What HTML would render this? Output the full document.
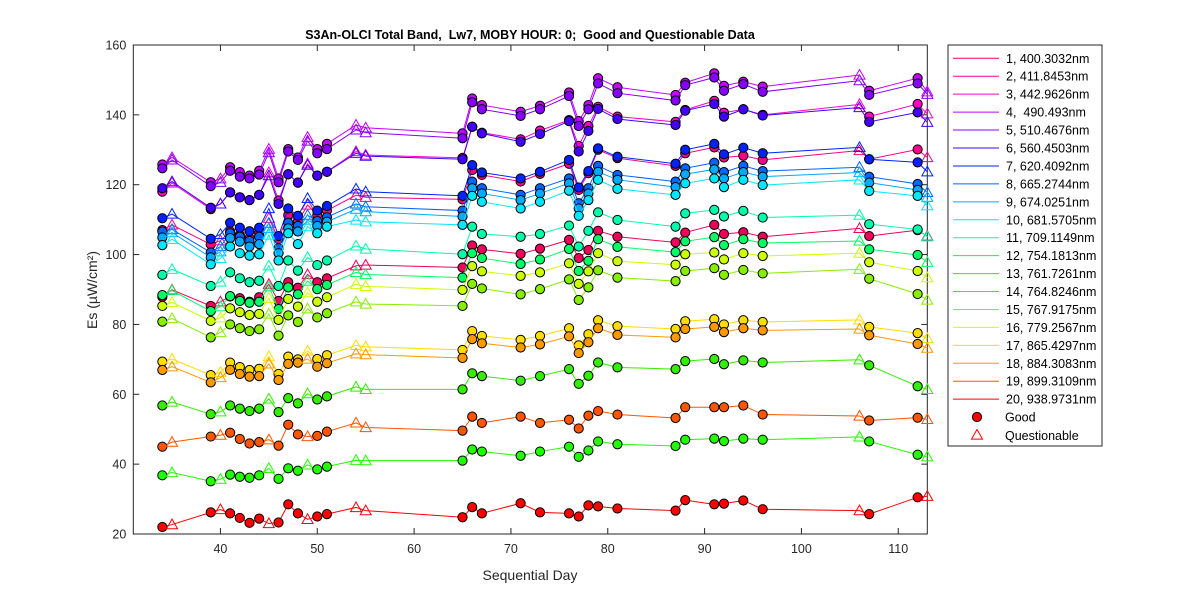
<!DOCTYPE html>
<html><head><meta charset="utf-8"><style>
body{margin:0;background:#fff;}
svg{display:block;font-family:"Liberation Sans",sans-serif;}
text{white-space:pre;}
</style></head><body>
<svg id="chart" width="1200" height="600" viewBox="0 0 1200 600" xmlns="http://www.w3.org/2000/svg" xml:space="preserve">
<rect width="1200" height="600" fill="#fff"/>
<text x="530" y="39" text-anchor="middle" font-size="12.5" font-weight="bold" fill="#000">S3An-OLCI Total Band,  Lw7, MOBY HOUR: 0;  Good and Questionable Data</text>
<text x="530" y="580" text-anchor="middle" font-size="14" fill="#262626">Sequential Day</text>
<text transform="translate(97,290) rotate(-90)" text-anchor="middle" font-size="14" fill="#262626">Es (µW/cm²)</text>
<g id="axes"></g>
<g id="plot"></g>
<g id="legend"></g>
</svg>
<script>
const days = [34,35,39,40,41,42,43,44,45,46,47,48,49,50,51,54,55,65,66,67,71,73,76,77,78,79,81,87,88,91,92,94,96,106,107,112,113];
const questionableDays = [35,40,45,49,54,55,106,113];
const xTicks = [40,50,60,70,80,90,100,110];
const yTicks = [20,40,60,80,100,120,140,160];
const seriesNames = ["1, 400.3032nm","2, 411.8453nm","3, 442.9626nm","4,  490.493nm","5, 510.4676nm","6, 560.4503nm","7, 620.4092nm","8, 665.2744nm","9, 674.0251nm","10, 681.5705nm","11, 709.1149nm","12, 754.1813nm","13, 761.7261nm","14, 764.8246nm","15, 767.9175nm","16, 779.2567nm","17, 865.4297nm","18, 884.3083nm","19, 899.3109nm","20, 938.9731nm"];
const seriesColors = ["#f0005a","#ff0088","#ff00c8","#c800ff","#8800ff","#4400ff","#0022ff","#0066ff","#00aaff","#00e8ff","#00ffaa","#00ff66","#33ee00","#22ff00","#88ee00","#ccff00","#ffdd00","#ff9900","#ff5500","#ff0000"];
const s1 = [87.9,89.9,85.3,86.5,88,87.5,86.5,87.8,91.5,86.7,92.1,90.5,94.3,92.1,93.2,96.8,97,96.3,102.6,101.5,100.2,101.7,104.2,99,101.3,106.8,105.1,103.5,106.3,108.5,105.9,106.4,105.1,107.5,105.3,107,105.3];
const s2 = [107,108.5,102.9,104,106.6,105.6,104.7,106.1,110.4,104.5,111.3,109.4,114.2,111.3,112.6,117,116.4,115.8,124.2,122.8,120.9,123.1,126,118.5,123.3,130,127.6,125.4,129,130.7,127.8,128.3,127.1,129.8,127.3,130.1,127.8];
const s3 = [118,120.5,113,114.5,117.8,116.4,115.6,117.1,123.5,115.5,123,120.6,126,122.6,123.7,129.5,128.5,127.7,136.6,134.9,133,135.5,138.5,131.1,136.8,142.3,139.5,138,141.4,144,140.6,141.6,140,143,139.5,143.1,140.3];
const s4 = [125.8,127.8,120.7,121.7,125,123.6,122.6,124,130.2,121.8,130.2,127.8,133.6,130.2,131.7,137.1,136.3,134.7,144.7,142.8,140.9,142.6,146.4,138.2,142.8,150.5,147.9,145.7,149.2,151.9,148.3,149.5,148.1,151.4,146.9,150.5,146.6];
const s5 = [124.7,127.1,119.6,120.7,124,122.3,121.8,122.9,129.2,120.7,129.5,127.1,132.5,129,130.2,135.7,134.9,133.3,143.6,141.6,139.7,141.6,145.4,136.8,141.6,149,146.2,144.1,148.5,150.7,146.9,148.8,146.6,149.8,145.7,149,145.9];
const s6 = [119,120.9,113.4,114.5,117.8,116.4,115.6,117.1,122.6,114.5,123,120.6,125.6,122.6,123.7,129,128.2,127.3,136.6,134.7,132.3,134.5,138.2,129.5,135.4,141.7,138.8,137.1,141.2,143.1,139.5,141.6,139.8,142.1,138,140.7,137.9];
const s7 = [110.4,111.6,104.5,105.8,109.1,107.7,106.7,107.7,113.2,105.3,113.2,111.1,116.1,112.6,113.9,118.8,118,116.8,125.6,123.5,121.8,123.7,127.1,119.2,123.9,130.4,128,126,130,131.7,128.7,130.6,129,130.7,127.3,126.4,123.7];
const s8 = [106.6,107.2,100.6,102.3,106.1,105.1,103.9,105.1,109,101.8,109.1,108.2,111.3,109.6,110.7,114.5,113.7,112.6,120.9,119,117.1,119,121.8,114.7,119,125.4,122.8,120.9,124.7,126.3,123.6,125.4,123.9,125,122.3,120.2,117.8];
const s9 = [104.9,106.3,99.2,100.8,104.7,103.7,102.3,103,107.5,100.4,107.5,106.6,109.9,108.2,109.4,113,112.3,110.9,119,117.5,115.6,117.5,120.4,113.2,117.5,123.7,121.4,119.3,123,124.4,121.8,123.6,122.3,123.5,120.6,118.5,116.4];
const s10 = [102.7,104.4,97.2,98.9,102.3,100.4,99.7,100.1,105.6,98.3,106.1,103,108,106.1,108,109.9,109.4,108.5,116.8,115.1,113.2,115.1,118.3,111.1,115.6,121.4,118.8,117.1,120.4,121.8,119.3,121.4,119.9,121.4,118.2,116.8,114];
const s11 = [94.2,95.8,91,92.2,94.9,93.2,92.1,92.5,96.8,91,98.3,95.4,99.2,97,98.3,102.5,101.6,100.1,108,105.9,105.1,105.9,108.3,102.3,106.8,112.1,109.9,108,111.8,112.8,110.9,112.5,110.6,111.3,108.7,107.2,105.1];
const s12 = [88.4,89.7,83.8,85.1,88.1,86.7,86.2,86.5,90.8,84.4,90.6,88.6,92.4,90.1,91.3,94.9,94.3,93.4,100.4,99,97.3,98.6,101.6,95.3,98.2,104.4,102.2,100.7,103.8,105,102.7,104.4,103.3,103.9,101.5,99.9,97.8];
const s13 = [56.8,57.8,54.3,55,56.8,55.9,55.2,55.9,58.7,54.9,58.9,57.4,60.2,58.5,59.4,62.1,61.4,61.4,66,65.2,63.9,65.2,67.2,63,65.3,69.1,67.7,67.2,69.5,70.1,68.6,69.7,69.1,69.9,68.3,62.3,61.4];
const s14 = [36.8,37.6,35.1,35.7,37,36.4,36.1,36.8,38.8,35.8,38.8,38.1,39.8,38.5,39.3,41.1,41,41,44.2,43.6,42.4,43.6,45,42.1,43.9,46.5,45.7,45.2,47,47.3,46.6,47.3,47,47.8,46.5,42.7,42.1];
const s15 = [80.8,81.7,76.3,77.7,80,78.9,78.1,78.6,83,76.8,82.6,80.7,84.5,82,83.2,86.5,85.85,85.3,91.6,90.3,88.6,90.1,92.9,87,90.6,95.5,93.4,92.4,95.3,96.1,94.2,95.6,94.6,95.8,93.1,88.7,87];
const s16 = [85.3,86.3,81,81.9,84.6,83.5,82.7,83,87.5,81.3,87.3,85.1,89.1,86.5,87.8,91.5,90.9,89.9,96.7,95.2,93.9,94.9,97.5,91.6,95.2,100.4,98.1,97.1,100.1,100.6,98.6,100.4,99.6,100.4,97.8,95.3,93.4];
const s17 = [69.35,70.1,65.5,66.3,69.06,67.8,66.96,67.3,70.8,65.8,70.8,70,72.4,70.1,71.2,74,73.6,72.7,78.1,76.7,75.6,76.7,78.9,74,77.2,81.2,79.5,78.7,80.9,81.5,80,81.2,80.7,81.3,79.3,77.5,76];
const s18 = [66.96,67.9,63.4,64.8,67,65.8,65.05,65.2,68.7,64.1,68.7,69.06,70.1,67.9,68.9,71.6,71.35,70.4,75.8,74.6,73.4,74.3,76.6,71.8,74.9,78.9,77,76.3,78.7,79.3,77.8,78.9,78.3,78.7,76.9,74.4,73.2];
const s19 = [45,46.3,47.9,48.3,49,47.2,45.9,46.3,47,45.3,51.3,48.5,47.9,48.1,49.3,51.8,50.5,49.6,53.6,51.8,53.6,51.8,52.7,50.2,53.9,55.2,54.2,53.2,56.3,56.3,56.3,56.8,54.2,53.8,52.5,53.3,52.8];
const s20 = [22,22.7,26.2,27,25.9,24.6,23.2,24.4,23,23.3,28.5,25.9,24.2,25,25.7,27.6,26.7,24.8,27.7,25.9,28.8,26.2,25.9,25,28.2,27.9,27.3,26.7,29.7,28.5,28.7,29.6,27.1,26.7,25.7,30.5,30.8];
const seriesValues = [s1,s2,s3,s4,s5,s6,s7,s8,s9,s10,s11,s12,s13,s14,s15,s16,s17,s18,s19,s20];

const NS = "http://www.w3.org/2000/svg";
const L = 133.3, R = 927.3, T = 45, B = 534;
const XMIN = 31, XMAX = 113, YMIN = 20, YMAX = 160;
function xScale(d){ return L + (d - XMIN) * (R - L) / (XMAX - XMIN); }
function yScale(v){ return B - (v - YMIN) * (B - T) / (YMAX - YMIN); }
function mk(tag, attrs, parent){ const e = document.createElementNS(NS, tag); for (const k in attrs) e.setAttribute(k, attrs[k]); parent.appendChild(e); return e; }

const axes = document.getElementById('axes');
const plot = document.getElementById('plot');
const legend = document.getElementById('legend');

const box = mk('rect', {x:L, y:T, width:R-L, height:B-T, fill:'none', stroke:'#262626', 'stroke-width':1}, axes);


xTicks.forEach(t => {
  const x = xScale(t);
  mk('line', {x1:x, y1:B, x2:x, y2:B-6, stroke:'#262626'}, axes);
  mk('line', {x1:x, y1:T, x2:x, y2:T+6, stroke:'#262626'}, axes);
  const tx = mk('text', {x:x, y:B+19, 'text-anchor':'middle', 'font-size':12.5, fill:'#262626'}, axes);
  tx.textContent = t;
  
  
});
yTicks.forEach(t => {
  const y = yScale(t);
  mk('line', {x1:L, y1:y, x2:L+6, y2:y, stroke:'#262626'}, axes);
  mk('line', {x1:R, y1:y, x2:R-6, y2:y, stroke:'#262626'}, axes);
  const ty = mk('text', {x:L-7, y:y+4.5, 'text-anchor':'end', 'font-size':12.5, fill:'#262626'}, axes);
  ty.textContent = t;
  
  
});

function triPts(x, y){ const h = 5.5; return (x)+','+(y-h)+' '+(x-h)+','+(y+h*0.75)+' '+(x+h)+','+(y+h*0.75); }

seriesValues.forEach((vals, si) => {
  const g = mk('g', {}, plot);
  
  
  const col = seriesColors[si];
  const pts = vals.map((v, i) => xScale(days[i]) + ',' + yScale(v)).join(' ');
  const pl = mk('polyline', {points:pts, fill:'none', stroke:col, 'stroke-width':1}, g);
  
  
  vals.forEach((v, i) => {
    const x = xScale(days[i]), y = yScale(v);
    if (questionableDays.includes(days[i])) {
      const tr = mk('polygon', {points:triPts(x, y), fill:'none', stroke:col, 'stroke-width':1}, g);
      
      
    } else {
      const c = mk('circle', {cx:x, cy:y, r:4.6, fill:col, stroke:'#000', 'stroke-width':1}, g);
      
      
    }
  });
});

const lb = mk('rect', {x:948, y:45, width:154, height:401, fill:'#fff', stroke:'#262626', 'stroke-width':1}, legend);


seriesNames.forEach((n, i) => {
  const y = 58.3 + i * 17.94;
  const g = mk('g', {}, legend);
  
  
  mk('line', {x1:953, y1:y, x2:999, y2:y, stroke:seriesColors[i], 'stroke-width':1}, g);
  const t = mk('text', {x:1006, y:y+4.5, 'font-size':12.5, fill:'#000'}, g);
  t.textContent = n;
});
const gg = mk('g', {}, legend);


mk('circle', {cx:977, cy:417, r:4.6, fill:'#ff0000', stroke:'#000', 'stroke-width':1}, gg);
const tg = mk('text', {x:1005, y:421.5, 'font-size':12.5, fill:'#000'}, gg);
tg.textContent = 'Good';
const gq = mk('g', {}, legend);


mk('polygon', {points:triPts(977, 435), fill:'none', stroke:'#ff0000', 'stroke-width':1}, gq);
const tq = mk('text', {x:1005, y:440, 'font-size':12.5, fill:'#000'}, gq);
tq.textContent = 'Questionable';
</script>
</body></html>
